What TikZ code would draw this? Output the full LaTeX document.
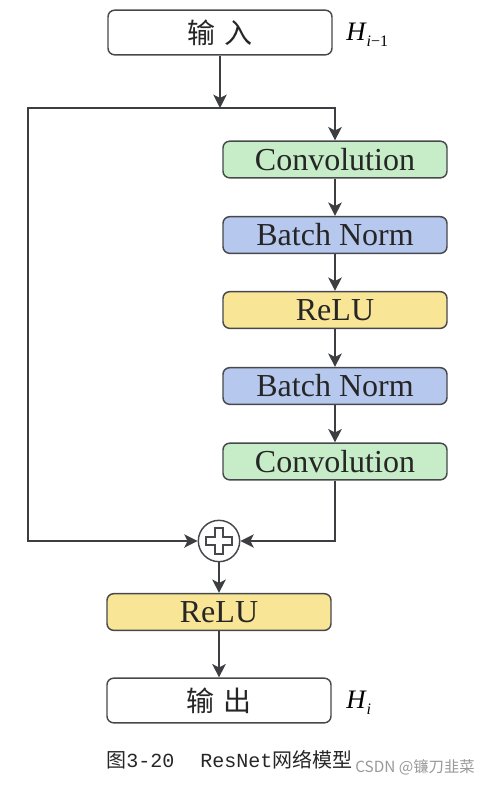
\documentclass[tikz,border=0pt]{standalone}
\usepackage{fontspec}
\setmainfont{Liberation Serif}
\newfontfamily\cjk{Noto Sans CJK SC}
\newfontfamily\capmono{Liberation Mono}
\usetikzlibrary{arrows.meta}
\definecolor{convgreen}{RGB}{198,236,200}
\definecolor{bnblue}{RGB}{182,200,238}
\definecolor{reluyellow}{RGB}{248,230,150}
\definecolor{edge}{RGB}{70,72,76}
\definecolor{wire}{RGB}{60,62,66}
\begin{document}
\begin{tikzpicture}[
            x=0.75pt, y=-0.75pt,
            blk/.style={
              draw=edge, line width=1.1pt,
              rounded corners=5pt,
              minimum width=168pt, minimum height=27.5pt,
              inner sep=0pt, text=black!85,
              font=\fontsize{24}{28}\selectfont
            },
            io/.style={
              blk, fill=white, minimum height=33.5pt,
              font=\cjk\fontsize{21}{24}\selectfont
            },
            arr/.style={
              draw=wire, line width=1.5pt,
              -{Stealth[length=10pt,width=10pt,inset=2.5pt]}
            },
            hlbl/.style={
              anchor=west, inner sep=0pt,
              font=\fontsize{20}{24}\selectfont
            }
        ]
    \useasboundingbox (0,0) rectangle (492,785);

    \node[io] (in) at (220,32.5) {输\hspace{0.35em}入};
    \node[hlbl] (hin) at (346,35) {\textit{H}\raisebox{-0.45ex}{\fontsize{12}{14}\selectfont\textit{i}−1}};

    \foreach \n/\t/\c/\y in {conv1/Convolution/convgreen/159.5,
                             bn1/Batch Norm/bnblue/235,
                             relu1/ReLU/reluyellow/310,
                             bn2/Batch Norm/bnblue/386,
                             conv2/Convolution/convgreen/461.5}
        \node[blk, fill=\c] (\n) at (335,\y) {\t};

    \node[draw=edge, line width=1.1pt, circle, minimum size=31pt,
          inner sep=0pt, fill=white] (add) at (219,541) {};
    \draw[edge, line width=1pt, shift={(add.center)}]
        (-4,-13) -- (4,-13) -- (4,-4) -- (13,-4) -- (13,4)
        -- (4,4) -- (4,13) -- (-4,13) -- (-4,4) -- (-13,4)
        -- (-13,-4) -- (-4,-4) -- cycle;

    \node[blk, fill=reluyellow] (relu2) at (219,612) {ReLU};
    \node[io] (out) at (219,700.5) {输\hspace{0.35em}出};
    \node[hlbl] (hout) at (346,703) {\textit{H}\raisebox{-0.45ex}{\fontsize{12}{14}\selectfont\textit{i}}};

    \coordinate (split) at (220,108);
    \coordinate (lft) at (28,108);

    \draw[arr] (in) -- (split);
    \draw[arr] (split) -| (conv1.north);
    \draw[arr] (split) -- (lft) |- (add.west);
    \foreach \a/\b in {conv1/bn1, bn1/relu1, relu1/bn2, bn2/conv2}
        \draw[arr] (\a) -- (\b);
    \draw[arr] (conv2.south) |- (add.east);
    \draw[arr] (add) -- (relu2);
    \draw[arr] (relu2) -- (out);

    \node[anchor=west, inner sep=0pt, text=black!85] (cap) at (106,760)
        {\cjk\fontsize{15}{18}\selectfont 图\capmono 3-20\hspace{1.3em}ResNet\cjk 网络模型};
    \node[anchor=west, inner sep=0pt, text=black!40] (wm) at (355,767)
        {\cjk\fontsize{11.5}{14}\selectfont CSDN @镰刀韭菜};
\end{tikzpicture}
\end{document}
